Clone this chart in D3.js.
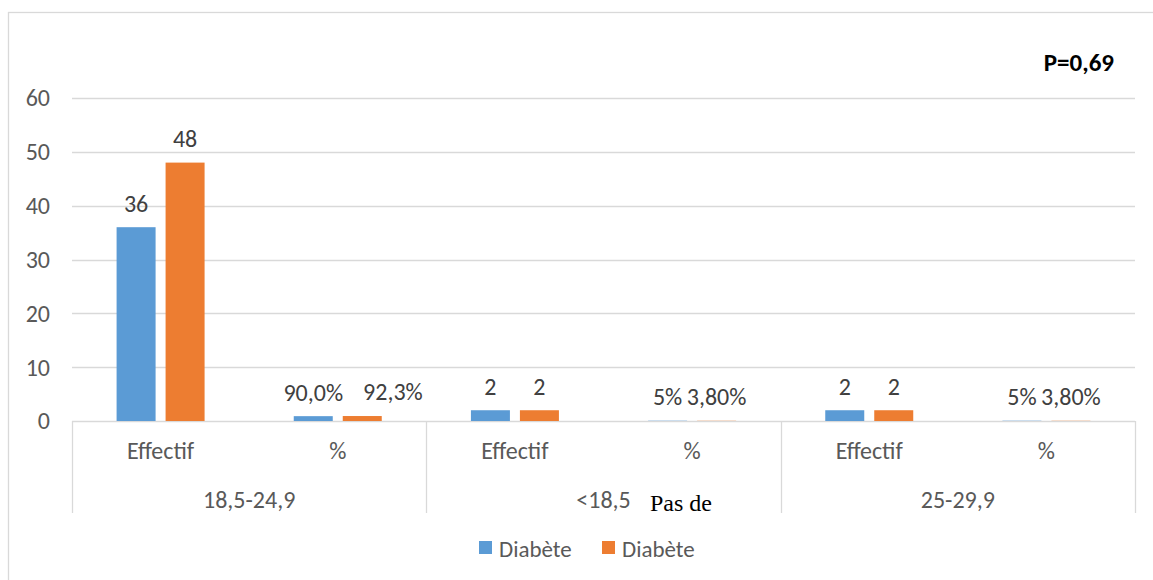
<!DOCTYPE html>
<html>
<head>
<meta charset="utf-8">
<script src="https://cdn.jsdelivr.net/npm/d3@7"></script>
<style>
  html, body { margin: 0; padding: 0; background: #fff; }
  svg { display: block; font-family: Calibri, Carlito, "Open Sans", sans-serif; }
</style>
</head>
<body>
<svg id="chart" width="1153" height="580"></svg>
<script>
// BMI classes (outer axis level) and measure type (inner axis level)
const groups = ["18,5-24,9", "<18,5", "25-29,9"];
const measures = ["Effectif", "%"];

// One value per (group, measure) pair, in reading order
const seriesNames = ["Diabète", "Diabète"];
const blueValues   = [36, 0.900, 2, 0.050, 2, 0.050];
const orangeValues = [48, 0.923, 2, 0.038, 2, 0.038];
const blueLabels   = ["36", "90,0%", "2", "5%", "2", "5%"];
const orangeLabels = ["48", "92,3%", "2", "3,80%", "2", "3,80%"];

const yTicks = [0, 10, 20, 30, 40, 50, 60];
const pValue = "P=0,69";

const colors = ["#5B9BD5", "#ED7D31"];
const textGrey = "#595959";
const gridGrey = "#D9D9D9";
const fontSize = 24;

const svg = d3.select("#chart");

const plotLeft = 72, plotRight = 1135, plotTop = 98, plotBottom = 421;
const axisBottom = 513;

// Chart frame
svg.append("rect")
  .attr("x", 8.5).attr("y", 12.5)
  .attr("width", 1160).attr("height", 600)
  .attr("fill", "none").attr("stroke", gridGrey).attr("stroke-width", 1.3);

const cells = [];
groups.forEach((g, gi) => measures.forEach((m, mi) => cells.push({ g, m, gi, mi, key: gi * 2 + mi })));

const x0 = d3.scaleBand().domain(d3.range(cells.length)).range([plotLeft, plotRight]);
const x1 = d3.scaleBand().domain([0, 1]).range([0, x0.bandwidth()])
  .paddingInner(0.204).paddingOuter(0.91);
const y = d3.scaleLinear().domain([0, 60]).range([plotBottom, plotTop]);

// Horizontal gridlines and value axis labels
svg.append("g").selectAll("line").data(yTicks).join("line")
  .attr("x1", plotLeft).attr("x2", plotRight)
  .attr("y1", d => Math.round(y(d)) + 0.5).attr("y2", d => Math.round(y(d)) + 0.5)
  .attr("stroke", gridGrey).attr("stroke-width", 1.3);

svg.append("g").selectAll("text").data(yTicks).join("text")
  .attr("x", 50).attr("y", d => y(d)).attr("dy", "0.35em")
  .attr("text-anchor", "end").attr("font-size", fontSize).attr("fill", textGrey)
  .text(d => d);

// Category axis separators (outer group boundaries)
const groupEdges = d3.range(groups.length + 1).map(i => plotLeft + i * 2 * x0.step());
svg.append("g").selectAll("line").data(groupEdges).join("line")
  .attr("x1", d => Math.round(d) + 0.5).attr("x2", d => Math.round(d) + 0.5)
  .attr("y1", plotBottom).attr("y2", axisBottom)
  .attr("stroke", gridGrey).attr("stroke-width", 1.3);

// Bars with value labels
const series = [blueValues, orangeValues];
const labels = [blueLabels, orangeLabels];
const labelNodes = [];
series.forEach((vals, si) => {
  const g = svg.append("g");
  g.selectAll("rect").data(cells).join("rect")
    .attr("x", d => x0(d.key) + x1(si))
    .attr("width", x1.bandwidth())
    .attr("y", d => y(vals[d.key]))
    .attr("height", d => y(0) - y(vals[d.key]))
    .attr("fill", colors[si]);
  labelNodes.push(g.selectAll("text").data(cells).join("text")
    .attr("x", d => x0(d.key) + x1(si) + x1.bandwidth() / 2)
    .attr("y", d => y(vals[d.key]) - 24).attr("dy", "0.35em")
    .attr("text-anchor", "middle").attr("font-size", fontSize).attr("fill", "#404040")
    .text(d => labels[si][d.key]).nodes());
});

// Push a right-hand value label clear of its neighbour when the two collide
cells.forEach(c => {
  const a = labelNodes[0][c.key].getBBox();
  const bNode = labelNodes[1][c.key];
  const b = bNode.getBBox();
  const overlap = a.x + a.width - b.x;
  if (overlap > 0) {
    bNode.setAttribute("x", +bNode.getAttribute("x") + overlap + 20);
  }
});

// Inner category labels
svg.append("g").selectAll("text").data(cells).join("text")
  .attr("x", d => x0(d.key) + x0.bandwidth() / 2).attr("y", 451).attr("dy", "0.35em")
  .attr("text-anchor", "middle").attr("font-size", fontSize).attr("fill", textGrey)
  .text(d => d.m);

// Outer group labels
svg.append("g").selectAll("text").data(groups).join("text")
  .attr("x", (d, i) => (groupEdges[i] + groupEdges[i + 1]) / 2).attr("y", 500).attr("dy", "0.35em")
  .attr("text-anchor", "middle").attr("font-size", fontSize).attr("fill", textGrey)
  .text(d => d);

// Overlaid serif note beside the middle group label
svg.append("text")
  .attr("x", 650).attr("y", 503).attr("dy", "0.35em")
  .attr("font-family", "'Liberation Serif', 'Times New Roman', serif")
  .attr("font-size", 24).attr("fill", "#000")
  .text("Pas de");

// Significance annotation
svg.append("text")
  .attr("x", 1114).attr("y", 62).attr("dy", "0.35em")
  .attr("text-anchor", "end").attr("font-size", 25).attr("font-weight", "bold").attr("fill", "#000")
  .text(pValue);

// Legend
const legendItems = [{ x: 479 }, { x: 602 }];
const lg = svg.append("g");
legendItems.forEach((it, i) => {
  lg.append("rect").attr("x", it.x).attr("y", 541).attr("width", 13).attr("height", 13).attr("fill", colors[i]);
  lg.append("text").attr("x", it.x + 20).attr("y", 549).attr("dy", "0.35em")
    .attr("font-size", 23).attr("fill", textGrey).text(seriesNames[i]);
});
</script>
</body>
</html>
